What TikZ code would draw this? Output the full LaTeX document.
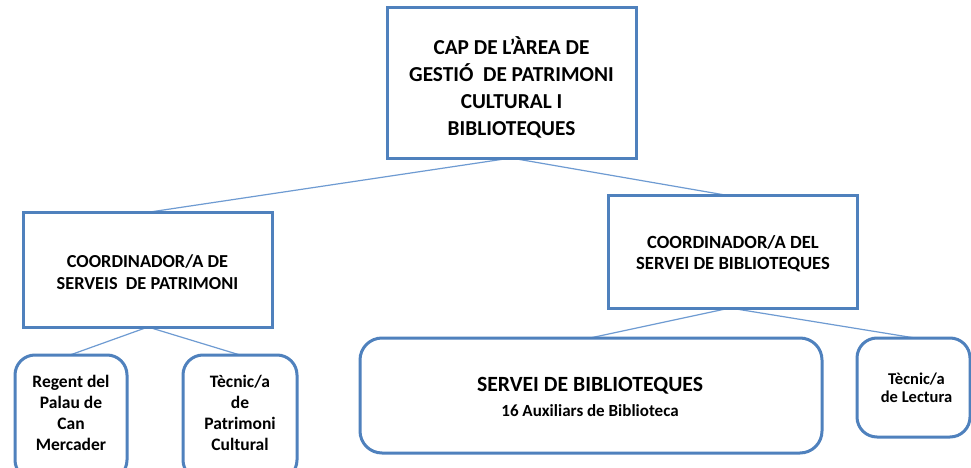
\documentclass[tikz,border=0pt]{standalone}
\usepackage{fontspec}
\setmainfont{Carlito}
\begin{document}
\begin{tikzpicture}[x=1pt,y=-1pt,
  box/.style={draw=boxblue,line width=3pt,fill=white,inner sep=0pt},
  rbox/.style={box,rounded corners=20pt},
  link/.style={draw=lineblue,line width=1.2pt},
  every node/.style={align=center}]
\definecolor{boxblue}{RGB}{79,129,189}
\definecolor{lineblue}{RGB}{110,155,210}
\clip (0,0) rectangle (971,468);
\fill[white] (0,0) rectangle (971,468);
% connector end points
\coordinate (topB) at (511,158);
\coordinate (lcT) at (150,212);
\coordinate (rcT) at (725,195);
\coordinate (lcB) at (148,327);
\coordinate (rcB) at (730,308);
\coordinate (s1T) at (70,355);
\coordinate (s2T) at (240,355);
\coordinate (bbT) at (590,338);
\coordinate (tlT) at (915,338);
\draw[link] (lcT) -- (topB) -- (rcT);
\draw[link] (s1T) -- (lcB) -- (s2T);
\draw[link] (bbT) -- (rcB) -- (tlT);
% boxes
\draw[box] (387,8) rectangle (636,158);
\node[font=\bfseries\fontsize{21.3}{27}\selectfont] (top) at (511.5,87) {CAP DE L’ÀREA DE\\GESTIÓ\ \ DE PATRIMONI\\CULTURAL I\\BIBLIOTEQUES};
\draw[box] (23,212) rectangle (272,327);
\node[font=\bfseries\fontsize{18.3}{22}\selectfont] (lc) at (147.5,272) {COORDINADOR/A DE\\SERVEIS\ \ DE PATRIMONI};
\draw[box] (608,195) rectangle (857,308);
\node[font=\bfseries\fontsize{18.6}{21.5}\selectfont] (rc) at (733,253.5) {COORDINADOR/A DEL\\SERVEI DE BIBLIOTEQUES};
\draw[rbox] (15,355) rectangle (127,480);
\node[font=\bfseries\fontsize{17.5}{21}\selectfont] (s1) at (71,413) {Regent del\\Palau de\\Can\\Mercader};
\draw[rbox] (183,355) rectangle (297,480);
\node[font=\bfseries\fontsize{17.5}{21}\selectfont] (s2) at (240,413) {Tècnic/a\\de\\Patrimoni\\Cultural};
\draw[rbox,rounded corners=22pt] (360,338) rectangle (822,453);
\node[font=\bfseries\fontsize{21.7}{25}\selectfont] (bb) at (590,397) {SERVEI DE BIBLIOTEQUES\\{\bfseries\fontsize{17}{18}\selectfont 16 Auxiliars de Biblioteca}};
\draw[rbox] (857,338) rectangle (970,437);
\node[font=\bfseries\fontsize{16.5}{18}\selectfont] (tl) at (916.5,388) {Tècnic/a\\de Lectura};
\end{tikzpicture}
\end{document}
